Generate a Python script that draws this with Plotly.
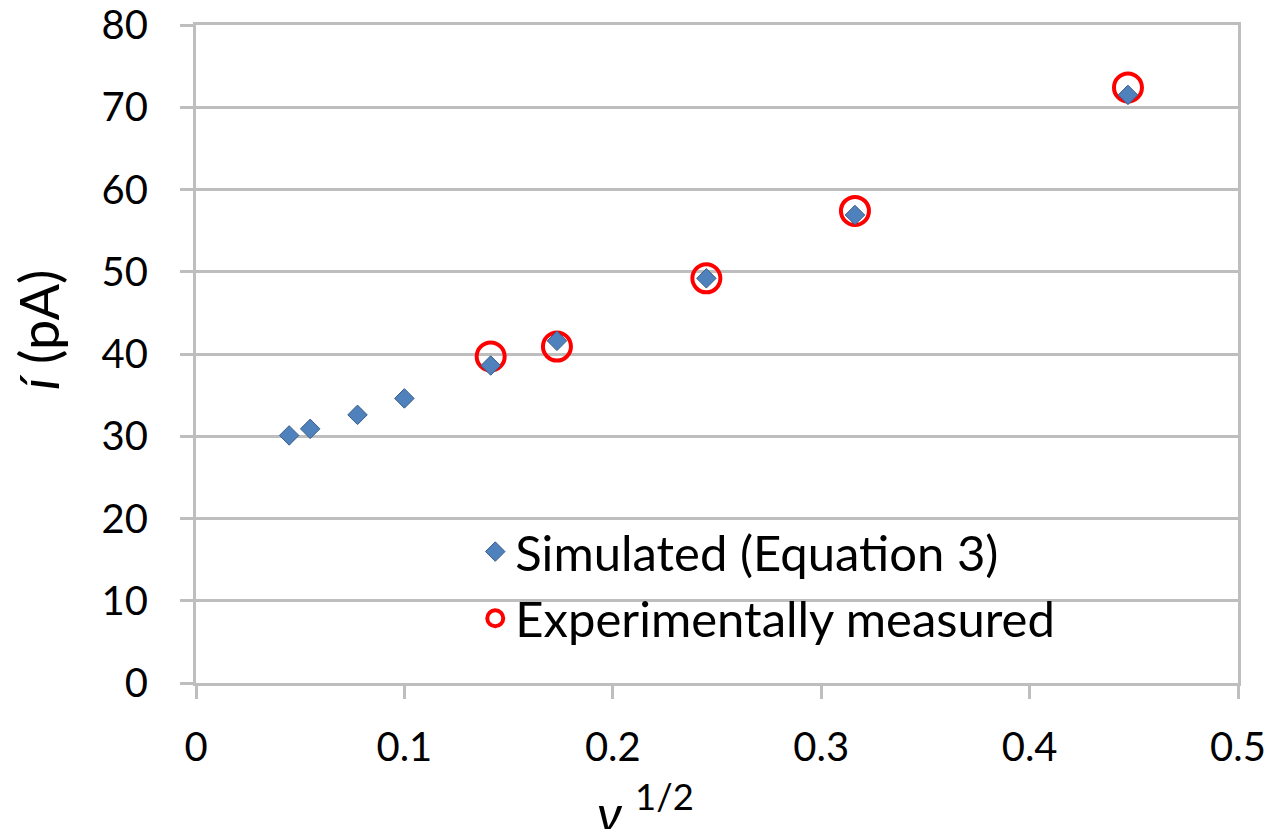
import plotly.graph_objects as go

sim_x = [0.0447, 0.0548, 0.0775, 0.1000, 0.1414, 0.1732, 0.2449, 0.3162, 0.4472]
sim_y = [30.1, 30.9, 32.6, 34.6, 38.6, 41.6, 49.2, 56.9, 71.5]
exp_x = [0.1414, 0.1732, 0.2449, 0.3162, 0.4472]
exp_y = [39.7, 40.9, 49.2, 57.4, 72.4]

FONT = "Lato"
GRID = "#BEBEBE"

fig = go.Figure()
fig.add_trace(go.Scatter(
    x=exp_x, y=exp_y, mode="markers", name="Experimentally measured",
    marker=dict(symbol="circle-open", size=28, color="#FF0000", line=dict(width=4, color="#FF0000")),
    legendrank=2,
))
fig.add_trace(go.Scatter(
    x=sim_x, y=sim_y, mode="markers", name="Simulated (Equation 3)",
    marker=dict(symbol="diamond", size=15, color="#4F81BD", line=dict(width=1, color="#385D8A")),
    legendrank=1,
))

fig.update_layout(
    width=1271, height=829,
    margin=dict(l=196, r=33, t=25, b=146, autoexpand=False),
    paper_bgcolor="white", plot_bgcolor="white",
    font=dict(family=FONT, size=40, color="black"),
    showlegend=True,
    legend=dict(x=0.268, y=0.258, xanchor="left", yanchor="top",
                bgcolor="rgba(0,0,0,0)", font=dict(size=49, family=FONT),
                tracegroupgap=0, itemsizing="trace"),
    xaxis=dict(range=[0, 0.5], dtick=0.1, tick0=0, showgrid=False, zeroline=False,
               automargin=False,
               showline=True, linecolor=GRID, linewidth=3, mirror=True,
               ticks="outside", ticklen=13, tickwidth=3, tickcolor=GRID,
               tickfont=dict(size=40), ticklabelstandoff=14),
    yaxis=dict(range=[0, 80], dtick=10, tick0=0, showgrid=True, gridcolor=GRID, gridwidth=3,
               automargin=False,
               zeroline=False, showline=True, linecolor=GRID, linewidth=3, mirror=True,
               ticks="outside", ticklen=13, tickwidth=3, tickcolor=GRID,
               tickfont=dict(size=40), ticklabelstandoff=24),
    annotations=[
        dict(text="<i>í</i> (pA)", textangle=-90, xref="paper", yref="paper",
             x=-0.1516, y=0.536, xanchor="center", yanchor="middle",
             showarrow=False, font=dict(size=54, family=FONT)),
        dict(text="<i>ν</i> <sup>1/2</sup>", xref="paper", yref="paper",
             x=0.431, y=-0.19, xanchor="center", yanchor="middle",
             showarrow=False, font=dict(size=52, family=FONT)),
    ],
)

fig.write_html("out.html", config={"displayModeBar": False},
               post_script="document.body.style.margin='0';")
